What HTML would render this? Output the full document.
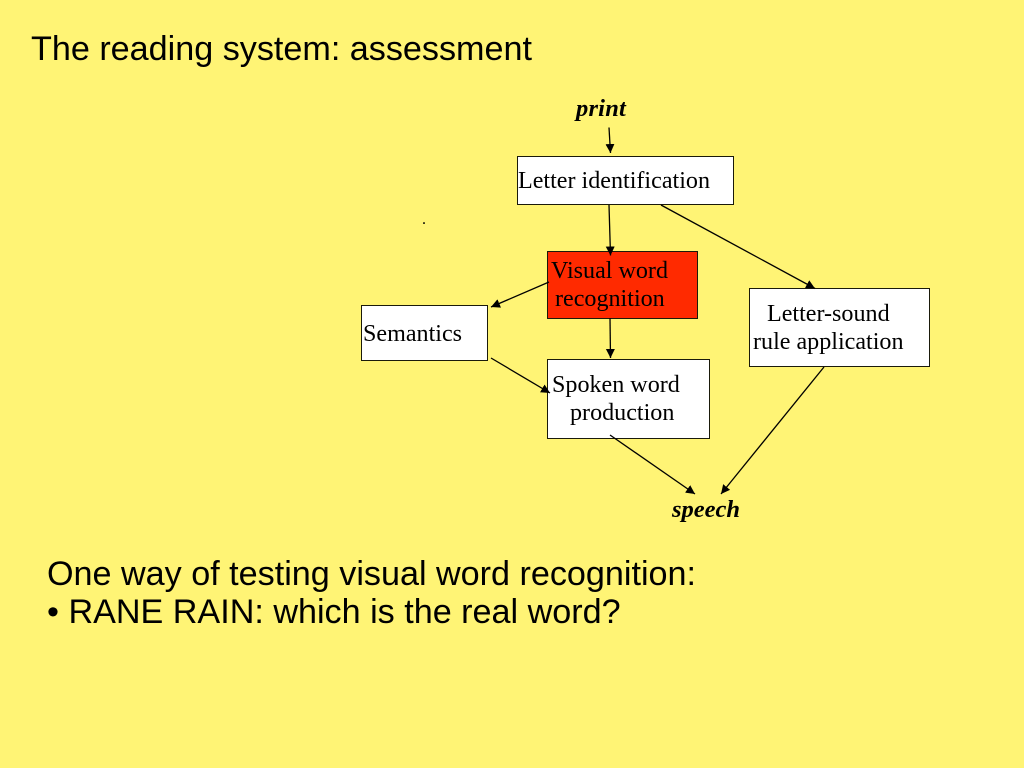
<!DOCTYPE html>
<html>
<head>
<meta charset="utf-8">
<style>
html,body{margin:0;padding:0;background:#fff475;}
svg{display:block;}
</style>
</head>
<body>
<svg width="1024" height="768" viewBox="0 0 1024 768" xmlns="http://www.w3.org/2000/svg">
<defs>
<marker id="a" markerUnits="userSpaceOnUse" markerWidth="10" markerHeight="10" refX="9" refY="4.5" orient="auto">
<path d="M0,0 L9,4.5 L0,9 Z" fill="#000"/>
</marker>
</defs>
<rect width="1024" height="768" fill="#fff475"/>
<g font-family="'Liberation Sans',sans-serif" fill="#000">
<text x="31" y="60" font-size="34.15">The reading system: assessment</text>
<text x="47" y="585" font-size="34.15">One way of testing visual word recognition:</text>
<text x="47" y="623" font-size="34.15">• RANE RAIN: which is the real word?</text>
</g>
<g stroke="#1a1a0a" stroke-width="1">
<rect x="517.5" y="156.5" width="216" height="48" fill="#fff"/>
<rect x="547.5" y="251.5" width="150" height="67" fill="#ff2a00"/>
<rect x="361.5" y="305.5" width="126" height="55" fill="#fff"/>
<rect x="749.5" y="288.5" width="180" height="78" fill="#fff"/>
<rect x="547.5" y="359.5" width="162" height="79" fill="#fff"/>
</g>
<g stroke="#000" stroke-width="1.3" fill="none">
<line x1="609" y1="127.5" x2="610.5" y2="153" marker-end="url(#a)"/>
<line x1="609" y1="205" x2="610.5" y2="255.5" marker-end="url(#a)"/>
<line x1="661" y1="205" x2="815" y2="288.5" marker-end="url(#a)"/>
<line x1="549" y1="282" x2="491" y2="307" marker-end="url(#a)"/>
<line x1="610" y1="318" x2="610.5" y2="358" marker-end="url(#a)"/>
<line x1="491" y1="358" x2="550" y2="393" marker-end="url(#a)"/>
<line x1="610" y1="435" x2="695" y2="494" marker-end="url(#a)"/>
<line x1="824" y1="367" x2="721" y2="494" marker-end="url(#a)"/>
</g>
<g font-family="'Liberation Serif',serif" font-size="24.1" fill="#000">
<text x="576" y="116" font-size="24.5" letter-spacing="0.2" font-weight="bold" font-style="italic">print</text>
<text x="518" y="188">Letter identification</text>
<text x="422" y="224" font-size="16">.</text>
<text x="551" y="278">Visual word</text>
<text x="555" y="306">recognition</text>
<text x="363" y="341">Semantics</text>
<text x="767" y="321">Letter-sound</text>
<text x="753" y="349">rule application</text>
<text x="552" y="392">Spoken word</text>
<text x="570" y="420">production</text>
<text x="672" y="517" font-size="24.5" font-weight="bold" font-style="italic">speech</text>
</g>
</svg>
</body>
</html>
